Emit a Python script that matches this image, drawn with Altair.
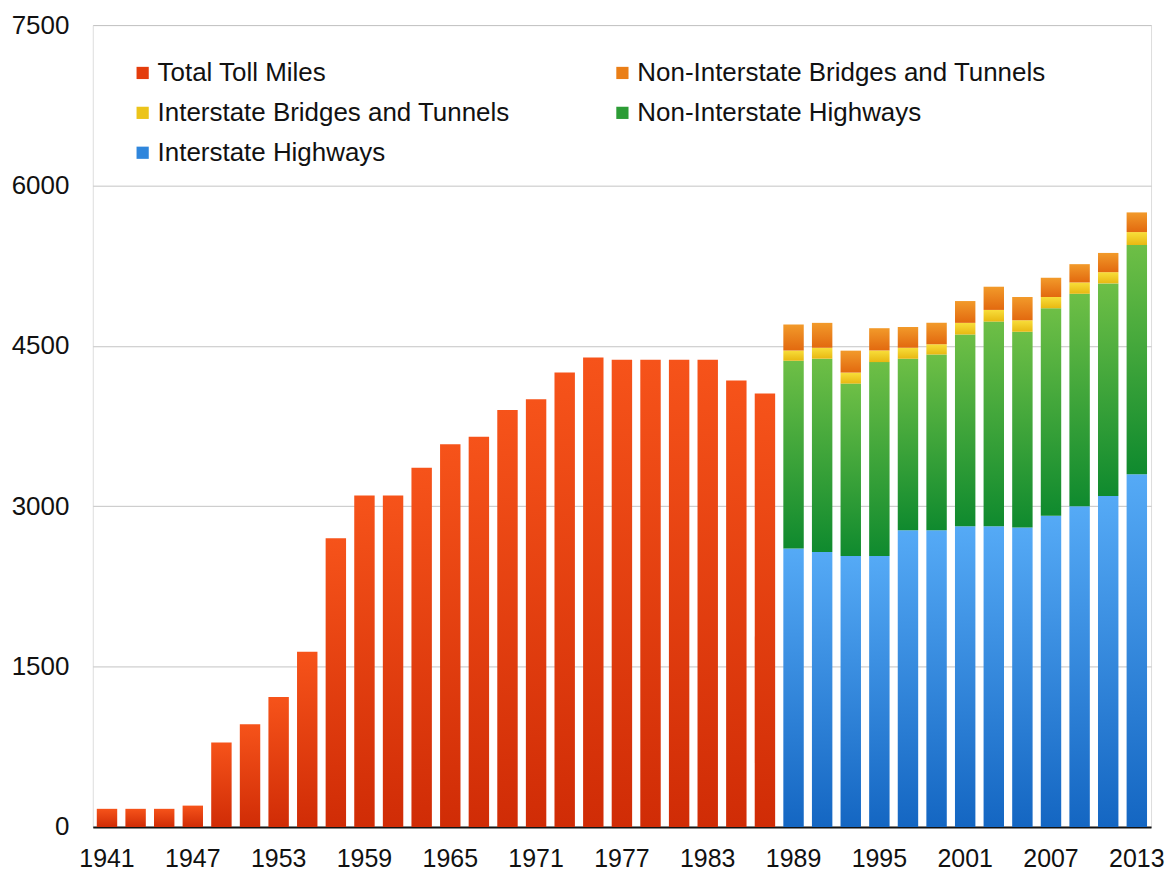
import altair as alt
import pandas as pd

# ---- data ----
early_years = [1941, 1943, 1945, 1947, 1949, 1951, 1953, 1955, 1957, 1959, 1961, 1963,
               1965, 1967, 1969, 1971, 1973, 1975, 1977, 1979, 1981, 1983, 1985, 1987]
total_toll_miles = [170, 170, 170, 200, 790, 960, 1215, 1640, 2700, 3100, 3100, 3360,
                    3580, 3650, 3900, 4000, 4250, 4390, 4370, 4370, 4370, 4370, 4175, 4055]

late_years = [1989, 1991, 1993, 1995, 1997, 1999, 2001, 2003, 2005, 2007, 2009, 2011, 2013]
interstate_highways = [2605, 2571, 2534, 2534, 2776, 2776, 2813, 2813, 2801, 2912, 2999, 3095, 3300]
non_interstate_highways = [1756, 1809, 1613, 1814, 1604, 1644, 1793, 1914, 1830, 1939, 1988, 1989, 2143]
interstate_bridges_tunnels = [96, 102, 103, 109, 102, 96, 109, 109, 108, 106, 106, 105, 121]
non_interstate_bridges_tunnels = [242, 233, 205, 208, 195, 199, 204, 217, 217, 179, 171, 180, 184]

tick_years = [1941, 1947, 1953, 1959, 1965, 1971, 1977, 1983, 1989, 1995, 2001, 2007, 2013]
y_ticks = [0, 1500, 3000, 4500, 6000, 7500]

S_TOTAL = "Total Toll Miles"
S_NIBT = "Non-Interstate Bridges and Tunnels"
S_IBT = "Interstate Bridges and Tunnels"
S_NIH = "Non-Interstate Highways"
S_IH = "Interstate Highways"

# legend is filled column by column: left column first, then right column
legend_order = [S_TOTAL, S_IBT, S_IH, S_NIBT, S_NIH]
legend_colors = ["#e43c0c", "#ecc41a", "#2f86dc", "#ea7e16", "#2c9c36"]

# series: (name, top colour, bottom colour)
styles = [
    (S_TOTAL, "#f6531a", "#d02c06"),
    (S_IH, "#55aaf6", "#1466c2"),
    (S_NIH, "#6ebf46", "#0f8a2e"),
    (S_IBT, "#f8de3a", "#e8b812"),
    (S_NIBT, "#f29a2a", "#e2690f"),
]

rows = []
for yr, v in zip(early_years, total_toll_miles):
    rows.append({"year": yr, "series": S_TOTAL, "order": 0, "value": v})
stack_series = [(S_IH, interstate_highways), (S_NIH, non_interstate_highways),
                (S_IBT, interstate_bridges_tunnels), (S_NIBT, non_interstate_bridges_tunnels)]
for i, yr in enumerate(late_years):
    for k, (name, vals) in enumerate(stack_series):
        rows.append({"year": yr, "series": name, "order": k, "value": vals[i]})
df = pd.DataFrame(rows)

FONT = "Liberation Sans"


def grad(top, bottom):
    return alt.Gradient(
        gradient="linear",
        stops=[alt.GradientStop(color=top, offset=0), alt.GradientStop(color=bottom, offset=1)],
        x1=0, x2=0, y1=0, y2=1,
    )


x_enc = alt.X(
    "year:O",
    scale=alt.Scale(paddingInner=0.286, paddingOuter=0.14),
    axis=alt.Axis(values=tick_years, title=None, labelAngle=0, labelFont=FONT, labelFontSize=25,
                  labelColor="#111111", labelPadding=20, ticks=False, tickSize=0, domain=True,
                  domainColor="#111111", domainWidth=2, grid=False),
)
y_enc = alt.Y(
    "y0:Q",
    scale=alt.Scale(domain=[0, 7500], nice=False),
    axis=alt.Axis(values=y_ticks, format="d", title=None, labelFont=FONT, labelFontSize=26,
                  labelColor="#111111", labelPadding=24, ticks=False, tickSize=0, domain=False,
                  grid=True, gridColor="#c4c4c4", gridWidth=1),
)

base = alt.Chart(df).transform_stack(
    stack="value", groupby=["year"], as_=["y0", "y1"],
    sort=[alt.SortField("order", order="ascending")],
)

layers = []
for name, top, bottom in styles:
    layers.append(
        base.transform_filter(alt.datum.series == name)
        .mark_bar(color=grad(top, bottom))
        .encode(x=x_enc, y=y_enc, y2="y1:Q")
    )

legend_layer = alt.Chart(df).transform_filter("false").mark_square(opacity=1, filled=True).encode(
    color=alt.Color(
        "series:N",
        scale=alt.Scale(domain=legend_order, range=legend_colors),
        legend=alt.Legend(
            orient="none", legendX=37, legendY=35, columns=2, title=None,
            symbolType="square", symbolSize=150, symbolStrokeWidth=0, symbolOpacity=1,
            labelFont=FONT, labelFontSize=26, labelColor="#111111", labelLimit=600,
            labelOffset=2, columnPadding=99, rowPadding=14, padding=0,
        ),
    )
)

chart = alt.layer(*layers, legend_layer).properties(
    width=1061, height=804,
    padding={"left": 3, "top": 3, "right": 0, "bottom": 0},
).configure_view(stroke=None).configure(background="white")

chart.save("out.html", embed_options={"renderer": "svg", "actions": False})
